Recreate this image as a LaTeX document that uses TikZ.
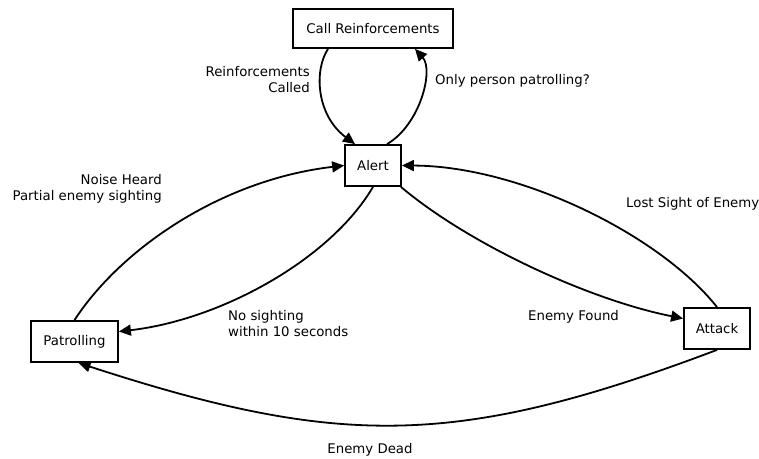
\documentclass[tikz,border=0pt]{standalone}
\usepackage{fontspec}
\setmainfont{DejaVu Sans}
\usetikzlibrary{arrows.meta}
\begin{document}
\begin{tikzpicture}[x=1pt,y=-1pt,
  state/.style={draw,line width=1.8pt,inner sep=0pt,font=\fontsize{13.3}{16}\selectfont},
  lbl/.style={inner sep=0pt,font=\fontsize{13.3}{16}\selectfont},
  edge/.style={line width=1.8pt,-{Triangle[length=12pt,width=11pt]}}]
\useasboundingbox (0,0) rectangle (759,458);
\node[state,minimum width=160pt,minimum height=39pt] (cr) at (373,28.5) {Call Reinforcements};
\node[state,minimum width=56pt,minimum height=41pt] (alert) at (373,165.5) {Alert};
\node[state,minimum width=87pt,minimum height=41pt] (pat) at (74.5,341.5) {Patrolling};
\node[state,minimum width=66pt,minimum height=41pt] (att) at (717,328.5) {Attack};
% edges
\draw[edge] ([xshift=-45pt]cr.south) .. controls (314,70) and (316,115) .. ([xshift=-18pt]alert.north);
\draw[edge] ([xshift=14pt]alert.north) .. controls (420,125) and (434,70) .. ([xshift=42pt]cr.south);
\draw[edge] (pat.north) .. controls (120,250) and (220,180) .. (alert.west);
\draw[edge] (alert.south) .. controls (330,260) and (220,320) .. ([yshift=10pt]pat.east);
\draw[edge] ([xshift=-1pt]alert.south east) .. controls (470,245) and (590,300) .. ([yshift=10pt]att.west);
\draw[edge] (att.north) .. controls (660,235) and (520,166) .. (alert.east);
\draw[edge] (att.south) .. controls (457,448) and (340,448) .. ([xshift=4pt]pat.south);
% labels
\node[lbl,align=right,anchor=east] (l1) at (310,80) {Reinforcements\\Called};
\node[lbl,anchor=west] (l2) at (435,81) {Only person patrolling?};
\node[lbl,align=right,anchor=east] (l3) at (162,189) {Noise Heard\\Partial enemy sighting};
\node[lbl,align=left,anchor=west] (l4) at (228,324) {No sighting\\within 10 seconds};
\node[lbl,anchor=west] (l5) at (528,317) {Enemy Found};
\node[lbl,anchor=west] (l6) at (626,204) {Lost Sight of Enemy};
\node[lbl] (l7) at (370,450) {Enemy Dead};
\end{tikzpicture}
\end{document}
